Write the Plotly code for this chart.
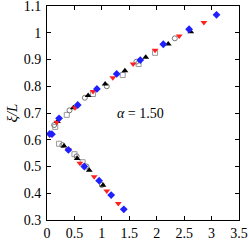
import plotly.graph_objects as go

# Upper and lower branch data for each series
blue_x = [0.05, 0.22, 0.56, 0.91, 1.27, 1.70, 2.12, 2.59, 3.09, 0.09, 0.39, 0.68, 0.95, 1.17, 1.40]
blue_y = [0.622, 0.68, 0.73, 0.79, 0.846, 0.898, 0.957, 1.013, 1.067, 0.621, 0.562, 0.50, 0.447, 0.393, 0.34]

red_x = [0.05, 0.18, 0.51, 0.84, 1.20, 1.57, 1.97, 2.41, 2.86, 0.39, 0.60, 0.86, 1.09, 1.30]
red_y = [0.618, 0.665, 0.72, 0.78, 0.832, 0.883, 0.935, 0.988, 1.038, 0.564, 0.512, 0.462, 0.408, 0.362]

black_x = [0.19, 0.48, 0.75, 1.06, 1.42, 1.80, 2.21, 2.62, 0.31, 0.55, 0.77, 1.02]
black_y = [0.668, 0.72, 0.765, 0.808, 0.858, 0.908, 0.958, 1.004, 0.577, 0.53, 0.486, 0.43]

gcirc_x = [0.13, 0.41, 0.69, 1.09, 1.63, 2.33, 0.28, 0.54, 0.72, 1.00]
gcirc_y = [0.655, 0.71, 0.757, 0.80, 0.892, 0.979, 0.58, 0.538, 0.50, 0.431]

gsq_x = [0.15, 0.36, 0.84, 1.38, 1.67, 1.97, 0.22, 0.50, 0.65]
gsq_y = [0.648, 0.693, 0.771, 0.842, 0.883, 0.925, 0.585, 0.546, 0.516]

x_ticks = [0, 0.5, 1, 1.5, 2, 2.5, 3, 3.5]
x_labels = ["0", "0.5", "1", "1.5", "2", "2.5", "3", "3.5"]
y_ticks = [0.3, 0.4, 0.5, 0.6, 0.7, 0.8, 0.9, 1.0, 1.1]
y_labels = ["0.3", "0.4", "0.5", "0.6", "0.7", "0.8", "0.9", "1", "1.1"]

fig = go.Figure()
fig.add_trace(go.Scatter(x=gsq_x, y=gsq_y, mode="markers",
                         marker=dict(symbol="square-open", size=5, color="#999999", line=dict(width=1))))
fig.add_trace(go.Scatter(x=gcirc_x, y=gcirc_y, mode="markers",
                         marker=dict(symbol="circle-open", size=5, color="#777777", line=dict(width=1))))
fig.add_trace(go.Scatter(x=black_x, y=black_y, mode="markers",
                         marker=dict(symbol="triangle-up", size=6, color="black")))
fig.add_trace(go.Scatter(x=red_x, y=red_y, mode="markers",
                         marker=dict(symbol="triangle-down", size=6, color="#ff2020")))
fig.add_trace(go.Scatter(x=blue_x, y=blue_y, mode="markers",
                         marker=dict(symbol="diamond", size=6, color="#2020ff")))

font = dict(family="Liberation Serif, DejaVu Serif, serif", size=14, color="black")
axis_common = dict(showline=True, linecolor="black", linewidth=1, mirror="ticks",
                   ticks="inside", ticklen=4, tickcolor="black", showgrid=False,
                   zeroline=False, tickfont=font, automargin=False,
                   ticklabeloverflow="allow")
fig.update_xaxes(range=[0, 3.5], tickvals=x_ticks, ticktext=x_labels,
                 ticklabelstandoff=0, **axis_common)
fig.update_yaxes(range=[0.3, 1.1], tickvals=y_ticks, ticktext=y_labels,
                 ticklabelstandoff=2,
                 title=dict(text="<i>ξ/L</i>", font=dict(family=font["family"], size=15, color="black"),
                            standoff=2), **axis_common)
fig.add_annotation(x=1.71, y=0.70, text="<i>α</i> = 1.50", showarrow=False, font=font)
fig.update_layout(width=249, height=241, margin=dict(l=47, r=10, t=6, b=21),
                  showlegend=False, plot_bgcolor="white", paper_bgcolor="white")
fig.write_html("out.html", config={"displayModeBar": False})

# remove default page margin so the figure sits at the window's origin
with open("out.html", encoding="utf-8") as f:
    html = f.read()
html = html.replace("<head>", "<head><style>html,body{margin:0;padding:0;overflow:hidden}</style>", 1)
with open("out.html", "w", encoding="utf-8") as f:
    f.write(html)
